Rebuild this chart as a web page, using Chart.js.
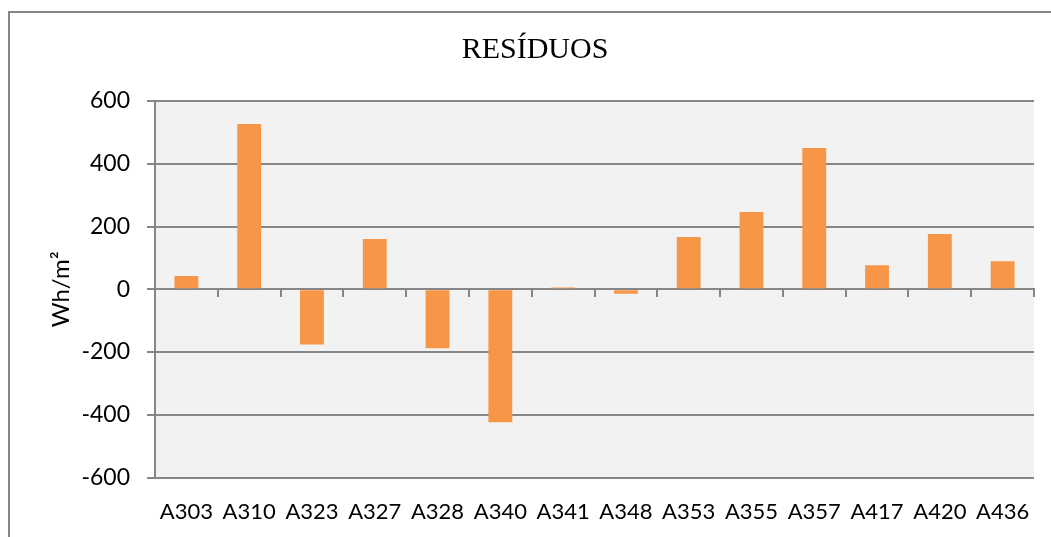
<!DOCTYPE html>
<html>
<head>
<meta charset="utf-8">
<script src="https://cdn.jsdelivr.net/npm/chart.js@4"></script>
<style>
  html, body { margin: 0; padding: 0; background: #fff; overflow: hidden; }
  #wrap { width: 1051px; height: 537px; }
</style>
</head>
<body>
<div id="wrap"><canvas id="myChart" width="1051" height="537"></canvas></div>
<script>
var stations = ['A303', 'A310', 'A323', 'A327', 'A328', 'A340', 'A341', 'A348', 'A353', 'A355', 'A357', 'A417', 'A420', 'A436'];
var residuos = [42, 527, -176, 160, -188, -424, 6, -14, 167, 246, 450, 77, 176, 89];
var yMin = -600, yMax = 600, yStep = 200;

var gridGrey = '#868686';

/* frame + grey plot background */
var backdrop = {
  id: 'backdrop',
  beforeDraw: function(chart) {
    var c = chart.ctx, a = chart.chartArea;
    c.save();
    c.fillStyle = '#fff';
    c.fillRect(0, 0, chart.width, chart.height);
    c.strokeStyle = gridGrey;
    c.lineWidth = 2;
    c.beginPath();
    c.moveTo(9, chart.height + 5);
    c.lineTo(9, 12);
    c.lineTo(chart.width + 5, 12);
    c.stroke();
    c.fillStyle = '#F2F2F2';
    c.fillRect(a.left, a.top, a.right - a.left, a.bottom - a.top);
    c.restore();
  }
};

const config = {
  type: 'bar',
  data: {
    labels: stations,
    datasets: [{
      label: 'Resíduos',
      data: residuos,
      backgroundColor: '#F79646',
      borderWidth: 0,
      barPercentage: 0.38,
      categoryPercentage: 1
    }]
  },
  options: {
    responsive: false,
    animation: false,
    layout: {
      padding: { top: 12, bottom: -9, left: 36, right: 17 }
    },
    plugins: {
      legend: { display: false },
      tooltip: { enabled: false },
      title: {
        display: true,
        text: 'RESÍDUOS',
        color: '#000',
        font: { family: 'Liberation Serif', size: 30, weight: 'normal' },
        padding: { top: 20, bottom: 33 }
      }
    },
    scales: {
      x: {
        grid: { display: false, drawTicks: false },
        border: { display: false },
        ticks: {
          color: '#000',
          autoSkip: false,
          maxRotation: 0,
          padding: 21,
          font: { family: 'Lato', size: 22 }
        }
      },
      x2: {
        type: 'category',
        position: { y: 0 },
        offset: true,
        grid: {
          offset: true,
          drawOnChartArea: false,
          drawTicks: true,
          tickLength: 7,
          color: gridGrey,
          lineWidth: 2
        },
        border: { display: true, color: gridGrey, width: 2 },
        ticks: { display: false }
      },
      y: {
        min: yMin,
        max: yMax,
        afterFit: function(scale) { scale.width = 119; },
        ticks: {
          stepSize: yStep,
          color: '#000',
          padding: 17,
          font: { family: 'Lato', size: 23 }
        },
        grid: {
          color: gridGrey,
          lineWidth: 2,
          tickLength: 8
        },
        border: { display: true, color: gridGrey, width: 2 },
        title: {
          display: true,
          text: 'Wh/m²',
          color: '#000',
          font: { family: 'Lato', size: 24 },
          padding: { top: 11, bottom: 0 }
        }
      }
    }
  },
  plugins: [backdrop]
};

var myChart = new Chart(document.getElementById('myChart'), config);
</script>
</body>
</html>
